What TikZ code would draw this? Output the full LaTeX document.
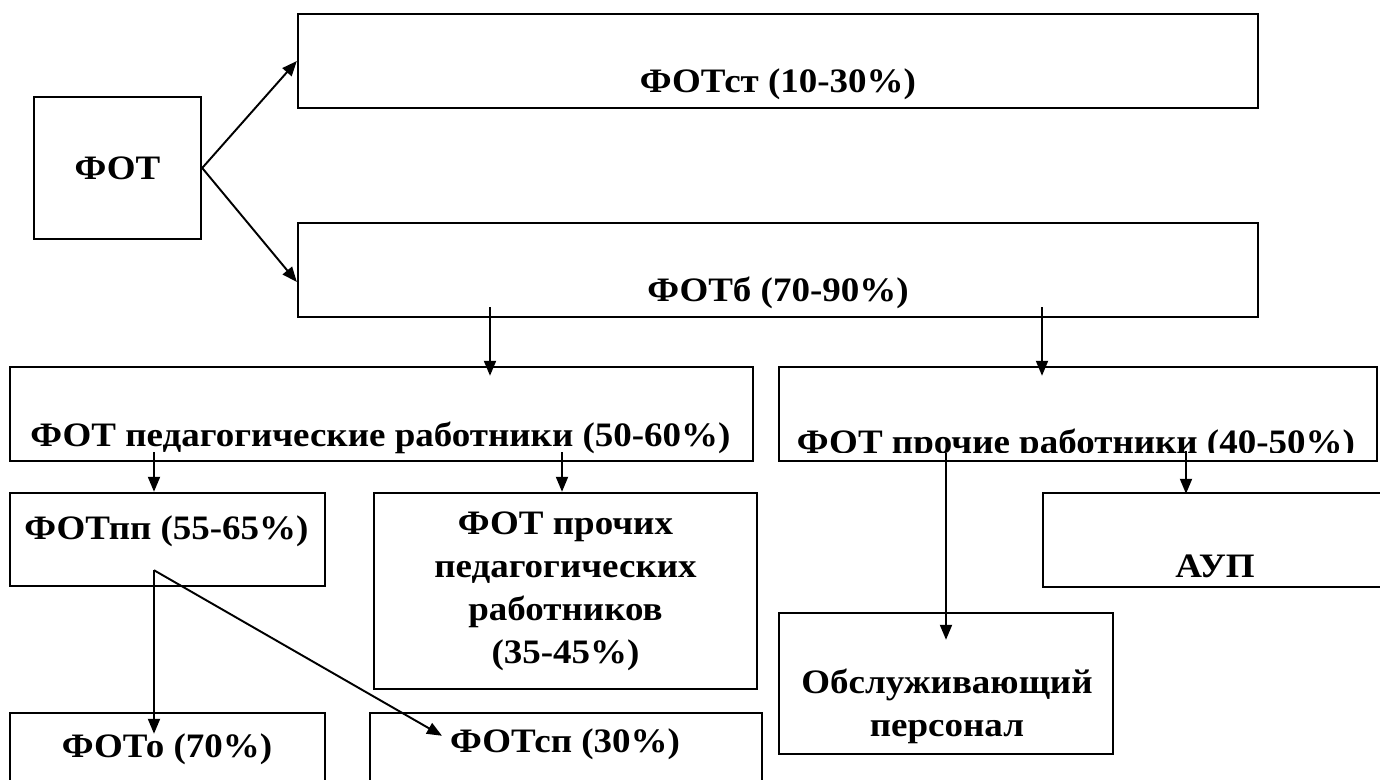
\documentclass[tikz,border=0pt]{standalone}
\usepackage{fontspec}
\setmainfont[FakeStretch=1.08]{Liberation Serif}
\usetikzlibrary{calc,arrows.meta}

\tikzset{
  box/.style={draw, line width=1.4pt, inner sep=0pt, align=center,
    font=\bfseries\fontsize{19.5}{24.4}\selectfont},
  lbl/.style={anchor=base, inner sep=0pt,
    font=\bfseries\fontsize{19.5}{24.4}\selectfont},
  arr/.style={-{Stealth[length=0.3cm,width=0.24cm,inset=0pt]}, line width=1.1pt},
}

\begin{document}
\begin{tikzpicture}[x=0.02cm, y=-0.02cm]
  \useasboundingbox (0,0) rectangle (1380,780);
  \clip (0,0) rectangle (1380,780);

  \node[box, minimum width=3.34cm, minimum height=2.84cm] (fot) at (117.5,168) {ФОТ};

  \node[box, minimum width=19.2cm, minimum height=1.88cm] (fotst) at (778,61) {};
  \node[lbl] (fotst-t) at (778,93) {ФОТст (10-30\%)};
  \node[box, minimum width=19.2cm, minimum height=1.88cm] (fotb) at (778,270) {};
  \node[lbl] (fotb-t) at (778,302) {ФОТб (70-90\%)};

  \node[box, minimum width=14.86cm, minimum height=1.88cm] (ped) at (381.5,414) {};
  \node[lbl] (ped-t) at (380.5,447) {ФОТ педагогические работники (50-60\%)};
  \node[box, minimum width=11.96cm, minimum height=1.88cm] (proch) at (1078,414) {};
  \begin{scope}
    \clip (779,367) rectangle (1377,453);
    \node[lbl] (proch-t) at (1076,454) {ФОТ прочие работники (40-50\%)};
  \end{scope}

  \node[box, minimum width=6.3cm, minimum height=1.86cm] (pp) at (167.5,539.5) {};
  \node[lbl] (pp-t) at (166.5,540) {ФОТпп (55-65\%)};
  \node[box, minimum width=7.66cm, minimum height=3.92cm] (othped) at (565.5,591)
    {ФОТ прочих\\педагогических\\работников\\(35-45\%)};

  \node[box, minimum width=6.3cm, minimum height=2.34cm] (fo) at (167.5,771.5) {};
  \node[lbl] (fo-t) at (167,757) {ФОТо (70\%)};
  \node[box, minimum width=7.84cm, minimum height=2.34cm] (fsp) at (566,771.5) {};
  \node[lbl] (fsp-t) at (565,752) {ФОТсп (30\%)};

  \node[box, minimum width=6.88cm, minimum height=1.88cm] (aup) at (1215,540) {};
  \node[lbl] (aup-t) at (1215,578) {АУП};
  \node[box, minimum width=6.68cm, minimum height=2.82cm] (serv) at (946,683.5) {};
  \node[lbl, anchor=center, align=center] (serv-t) at (947,706)
    {Обслуживающий\\персонал};

  %fot>st, fot>b
  \draw[arr] (fot.east) -- (fotst.west);
  \draw[arr] (fot.east) -- ($(fotb.west)+(0,12)$);

  %b>ped, b>proch
  \draw[arr] ($(fotb.south)+(-288,-11)$) -- ($(ped.north)+(108.5,10)$);
  \draw[arr] ($(fotb.south)+(264,-11)$) -- ($(proch.north)+(-36,10)$);

  %ped>pp, ped>othped
  \draw[arr] ($(ped.south)+(-227.5,-10)$) -- ($(pp.north)+(-13.5,0)$);
  \draw[arr] ($(ped.south)+(180.5,-10)$) -- ($(othped.north)+(-3.5,0)$);

  %pp>fo, pp>fsp
  \draw[arr] ($(pp.south)+(-13.5,-17)$) -- ($(fo.north)+(-13.5,22)$);
  \draw[arr] ($(pp.south)+(-13.5,-17)$) -- ($(fsp.north)+(-124,24)$);

  %proch>serv, proch>aup
  \draw[arr] ($(proch.south)+(-132,-9)$) -- ($(serv.north)+(0,28)$);
  \draw[arr] ($(proch.south)+(108,-11)$) -- ($(aup.north)+(-29,2)$);
\end{tikzpicture}
\end{document}
